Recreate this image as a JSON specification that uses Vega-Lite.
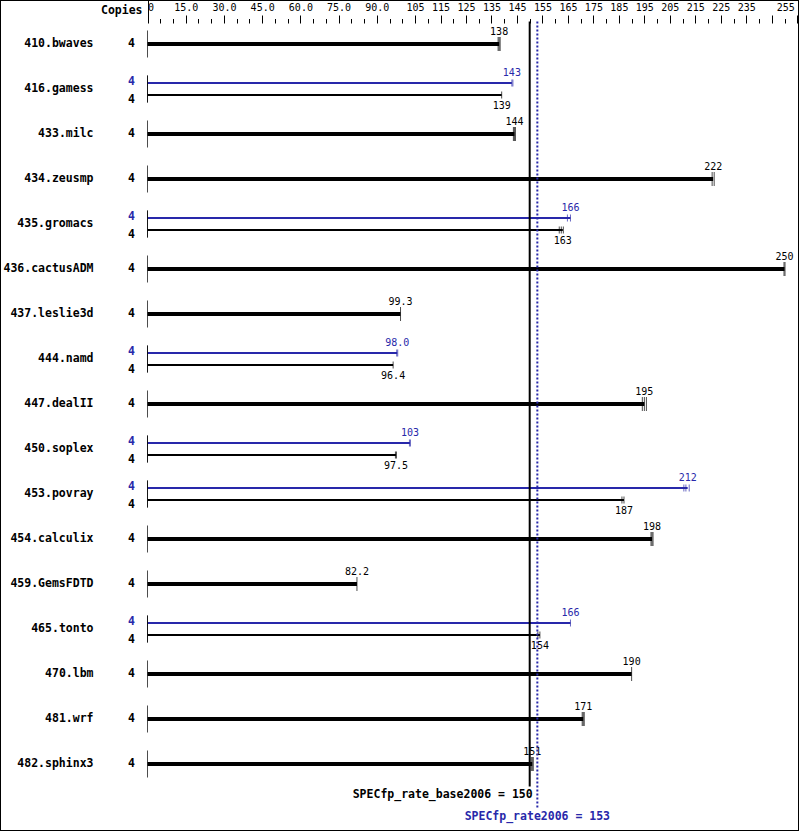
{
  "$schema": "https://vega.github.io/schema/vega-lite/v6.json",
  "width": 799,
  "height": 831,
  "autosize": "none",
  "padding": 0,
  "background": "white",
  "config": {
    "view": {"stroke": "black", "strokeWidth": 2},
    "font": "DejaVu Sans Mono",
    "text": {"font": "DejaVu Sans Mono"}
  },
  "resolve": {"axis": {"x": "independent", "y": "independent"}},
  "datasets": {
    "bars": [
      {"bench": "410.bwaves", "series": "single", "start": 0, "value": 138, "copies": 4},
      {"bench": "416.gamess", "series": "peak", "start": 0, "value": 143, "copies": 4},
      {"bench": "416.gamess", "series": "base", "start": 0, "value": 139, "copies": 4},
      {"bench": "433.milc", "series": "single", "start": 0, "value": 144, "copies": 4},
      {"bench": "434.zeusmp", "series": "single", "start": 0, "value": 222, "copies": 4},
      {"bench": "435.gromacs", "series": "peak", "start": 0, "value": 166, "copies": 4},
      {"bench": "435.gromacs", "series": "base", "start": 0, "value": 163, "copies": 4},
      {"bench": "436.cactusADM", "series": "single", "start": 0, "value": 250, "copies": 4},
      {"bench": "437.leslie3d", "series": "single", "start": 0, "value": 99.3, "copies": 4},
      {"bench": "444.namd", "series": "peak", "start": 0, "value": 98.0, "copies": 4},
      {"bench": "444.namd", "series": "base", "start": 0, "value": 96.4, "copies": 4},
      {"bench": "447.dealII", "series": "single", "start": 0, "value": 195, "copies": 4},
      {"bench": "450.soplex", "series": "peak", "start": 0, "value": 103, "copies": 4},
      {"bench": "450.soplex", "series": "base", "start": 0, "value": 97.5, "copies": 4},
      {"bench": "453.povray", "series": "peak", "start": 0, "value": 212, "copies": 4},
      {"bench": "453.povray", "series": "base", "start": 0, "value": 187, "copies": 4},
      {"bench": "454.calculix", "series": "single", "start": 0, "value": 198, "copies": 4},
      {"bench": "459.GemsFDTD", "series": "single", "start": 0, "value": 82.2, "copies": 4},
      {"bench": "465.tonto", "series": "peak", "start": 0, "value": 166, "copies": 4},
      {"bench": "465.tonto", "series": "base", "start": 0, "value": 154, "copies": 4},
      {"bench": "470.lbm", "series": "single", "start": 0, "value": 190, "copies": 4},
      {"bench": "481.wrf", "series": "single", "start": 0, "value": 171, "copies": 4},
      {"bench": "482.sphinx3", "series": "single", "start": 0, "value": 151, "copies": 4}
    ],
    "runs": [
      {"bench": "410.bwaves", "series": "single", "run": 137.6},
      {"bench": "410.bwaves", "series": "single", "run": 138.0},
      {"bench": "410.bwaves", "series": "single", "run": 138.4},
      {"bench": "416.gamess", "series": "peak", "run": 143.0},
      {"bench": "416.gamess", "series": "peak", "run": 143.4},
      {"bench": "416.gamess", "series": "base", "run": 139.0},
      {"bench": "433.milc", "series": "single", "run": 143.6},
      {"bench": "433.milc", "series": "single", "run": 144.0},
      {"bench": "433.milc", "series": "single", "run": 144.4},
      {"bench": "434.zeusmp", "series": "single", "run": 221.6},
      {"bench": "434.zeusmp", "series": "single", "run": 222.4},
      {"bench": "435.gromacs", "series": "peak", "run": 164.8},
      {"bench": "435.gromacs", "series": "peak", "run": 166.0},
      {"bench": "435.gromacs", "series": "base", "run": 161.6},
      {"bench": "435.gromacs", "series": "base", "run": 162.4},
      {"bench": "435.gromacs", "series": "base", "run": 163.2},
      {"bench": "436.cactusADM", "series": "single", "run": 249.8},
      {"bench": "436.cactusADM", "series": "single", "run": 250.2},
      {"bench": "437.leslie3d", "series": "single", "run": 99.3},
      {"bench": "444.namd", "series": "peak", "run": 97.8},
      {"bench": "444.namd", "series": "peak", "run": 98.2},
      {"bench": "444.namd", "series": "base", "run": 96.4},
      {"bench": "447.dealII", "series": "single", "run": 194.2},
      {"bench": "447.dealII", "series": "single", "run": 195.0},
      {"bench": "447.dealII", "series": "single", "run": 195.8},
      {"bench": "450.soplex", "series": "peak", "run": 102.8},
      {"bench": "450.soplex", "series": "peak", "run": 103.2},
      {"bench": "450.soplex", "series": "base", "run": 97.3},
      {"bench": "450.soplex", "series": "base", "run": 97.7},
      {"bench": "453.povray", "series": "peak", "run": 210.5},
      {"bench": "453.povray", "series": "peak", "run": 211.3},
      {"bench": "453.povray", "series": "peak", "run": 212.6},
      {"bench": "453.povray", "series": "base", "run": 186.2},
      {"bench": "453.povray", "series": "base", "run": 187.0},
      {"bench": "454.calculix", "series": "single", "run": 197.6},
      {"bench": "454.calculix", "series": "single", "run": 198.0},
      {"bench": "454.calculix", "series": "single", "run": 198.4},
      {"bench": "459.GemsFDTD", "series": "single", "run": 82.2},
      {"bench": "465.tonto", "series": "peak", "run": 166.0},
      {"bench": "465.tonto", "series": "base", "run": 153.2},
      {"bench": "465.tonto", "series": "base", "run": 154.0},
      {"bench": "470.lbm", "series": "single", "run": 190.0},
      {"bench": "481.wrf", "series": "single", "run": 170.6},
      {"bench": "481.wrf", "series": "single", "run": 171.0},
      {"bench": "481.wrf", "series": "single", "run": 171.4},
      {"bench": "482.sphinx3", "series": "single", "run": 150.6},
      {"bench": "482.sphinx3", "series": "single", "run": 151.0},
      {"bench": "482.sphinx3", "series": "single", "run": 151.4}
    ],
    "summary": [
      {"label": "SPECfp_rate_base2006 = 150", "series": "base", "value": 150, "first": "410.bwaves", "last": "482.sphinx3"},
      {"label": "SPECfp_rate2006 = 153", "series": "peak", "value": 153, "first": "410.bwaves", "last": "482.sphinx3"}
    ]
  },
  "layer": [
    {
      "data": {"name": "bars"},
      "transform": [{"filter": "datum.series == 'single'"}],
      "mark": {"type": "rule", "strokeWidth": 4},
      "encoding": {
        "y": {
          "field": "bench", "type": "nominal", "sort": null,
          "scale": {
            "domain": ["410.bwaves","416.gamess","433.milc","434.zeusmp","435.gromacs","436.cactusADM","437.leslie3d","444.namd","447.dealII","450.soplex","453.povray","454.calculix","459.GemsFDTD","465.tonto","470.lbm","481.wrf","482.sphinx3"],
            "paddingInner": 0, "paddingOuter": 0.7333, "align": 0.326
          },
          "axis": {
            "orient": "left", "offset": -147, "domain": false, "ticks": false, "tickSize": 0,
            "labelPadding": 54, "labelFont": "DejaVu Sans Mono", "labelFontWeight": "bold",
            "labelFontSize": 11.5, "labelColor": "black", "labelAlign": "right", "labelBaseline": "middle",
            "title": null, "grid": false
          }
        },
        "yOffset": {
          "field": "series", "type": "nominal",
          "scale": {"domain": ["o1","o2","peak","single","base","o3","o4"], "paddingInner": 0, "paddingOuter": 0.25}
        },
        "x": {
          "field": "start", "type": "quantitative",
          "scale": {"domain": [-57.89, 255.69], "nice": false, "zero": false},
          "axis": {
            "orient": "top", "offset": -23, "domain": false, "grid": false,
            "values": [0,5,10,15,20,25,30,35,40,45,50,55,60,65,70,75,80,85,90,95,100,105,110,115,120,125,130,135,140,145,150,155,160,165,170,175,180,185,190,195,200,205,210,215,220,225,230,235,240,245,250,255],
            "labelExpr": "datum.value == 0 ? '0' : indexof([15,30,45,60,75,90,105,115,125,135,145,155,165,175,185,195,205,215,225,235,255], datum.value) < 0 ? '' : datum.value < 100 ? format(datum.value, '.1f') : format(datum.value, 'd')",
            "labelFont": "DejaVu Sans Mono", "labelFontSize": 10, "labelColor": "black",
            "labelBaseline": "alphabetic", "labelOverlap": false, "labelFlush": false,
            "labelPadding": {"condition": {"test": "datum.value == 0", "value": -10}, "value": 5},
            "labelAlign": {"condition": {"test": "datum.value == 0", "value": "left"}, "value": "center"},
            "labelOffset": {"condition": {"test": "datum.value == 255", "value": -12}, "value": 0},
            "tickColor": "black", "tickWidth": 1,
            "tickSize": {"condition": [{"test": "datum.value == 0", "value": 23}, {"test": "indexof([15,30,45,60,75,90,105,115,125,135,145,155,165,175,185,195,205,215,225,235,245,255], datum.value) >= 0", "value": 8}], "value": 4.5},
            "title": "Copies", "titleX": 142, "titleY": -10, "titleAlign": "right",
            "titleBaseline": "alphabetic", "titleFont": "DejaVu Sans Mono", "titleFontWeight": "bold",
            "titleFontSize": 11.5, "titleColor": "black", "titleAngle": 0
          }
        },
        "x2": {"field": "value"},
        "color": {"field": "series", "type": "nominal", "scale": {"domain": ["peak","single","base"], "range": ["#2828aa","#000000","#000000"]}, "legend": null}
      }
    },
    {
      "data": {"name": "bars"},
      "transform": [{"filter": "datum.series != 'single'"}],
      "mark": {"type": "rule", "strokeWidth": 2},
      "encoding": {
        "y": {"field": "bench", "type": "nominal", "sort": null, "axis": null},
        "yOffset": {"field": "series", "type": "nominal"},
        "x": {"field": "start", "type": "quantitative", "axis": null},
        "x2": {"field": "value"},
        "color": {"field": "series", "type": "nominal", "legend": null}
      }
    },
    {
      "data": {"name": "bars"},
      "mark": {"type": "tick", "orient": "vertical", "size": 27, "thickness": 1, "color": "black"},
      "encoding": {
        "x": {"field": "start", "type": "quantitative", "axis": null},
        "y": {"field": "bench", "type": "nominal", "sort": null, "axis": null}
      }
    },
    {
      "data": {"name": "runs"},
      "transform": [{"filter": "datum.series == 'single'"}],
      "mark": {"type": "tick", "orient": "vertical", "thickness": 1, "size": 14},
      "encoding": {
        "x": {"field": "run", "type": "quantitative", "axis": null},
        "y": {"field": "bench", "type": "nominal", "sort": null, "axis": null},
        "yOffset": {"field": "series", "type": "nominal"},
        "color": {"field": "series", "type": "nominal", "legend": null}
      }
    },
    {
      "data": {"name": "runs"},
      "transform": [{"filter": "datum.series != 'single'"}],
      "mark": {"type": "tick", "orient": "vertical", "thickness": 1, "size": 7},
      "encoding": {
        "x": {"field": "run", "type": "quantitative", "axis": null},
        "y": {"field": "bench", "type": "nominal", "sort": null, "axis": null},
        "yOffset": {"field": "series", "type": "nominal"},
        "color": {"field": "series", "type": "nominal", "legend": null}
      }
    },
    {
      "data": {"name": "bars"},
      "transform": [{"filter": "datum.series == 'single'"}],
      "mark": {"type": "text", "fontSize": 10, "align": "center", "baseline": "middle", "dy": -12},
      "encoding": {
        "x": {"field": "value", "type": "quantitative", "axis": null},
        "y": {"field": "bench", "type": "nominal", "sort": null, "axis": null},
        "yOffset": {"field": "series", "type": "nominal"},
        "text": {"field": "value", "type": "quantitative", "format": ".3r"},
        "color": {"field": "series", "type": "nominal", "legend": null}
      }
    },
    {
      "data": {"name": "bars"},
      "transform": [{"filter": "datum.series == 'peak'"}],
      "mark": {"type": "text", "fontSize": 10, "align": "center", "baseline": "middle", "dy": -10},
      "encoding": {
        "x": {"field": "value", "type": "quantitative", "axis": null},
        "y": {"field": "bench", "type": "nominal", "sort": null, "axis": null},
        "yOffset": {"field": "series", "type": "nominal"},
        "text": {"field": "value", "type": "quantitative", "format": ".3r"},
        "color": {"field": "series", "type": "nominal", "legend": null}
      }
    },
    {
      "data": {"name": "bars"},
      "transform": [{"filter": "datum.series == 'base'"}],
      "mark": {"type": "text", "fontSize": 10, "align": "center", "baseline": "middle", "dy": 11},
      "encoding": {
        "x": {"field": "value", "type": "quantitative", "axis": null},
        "y": {"field": "bench", "type": "nominal", "sort": null, "axis": null},
        "yOffset": {"field": "series", "type": "nominal"},
        "text": {"field": "value", "type": "quantitative", "format": ".3r"},
        "color": {"field": "series", "type": "nominal", "legend": null}
      }
    },
    {
      "data": {"name": "bars"},
      "transform": [{"filter": "datum.series == 'single'"}],
      "mark": {"type": "text", "fontSize": 11.5, "fontWeight": "bold", "align": "center", "baseline": "middle"},
      "encoding": {
        "x": {"datum": -6.28, "type": "quantitative", "axis": null},
        "y": {"field": "bench", "type": "nominal", "sort": null, "axis": null},
        "yOffset": {"field": "series", "type": "nominal"},
        "text": {"field": "copies", "type": "nominal"},
        "color": {"field": "series", "type": "nominal", "legend": null}
      }
    },
    {
      "data": {"name": "bars"},
      "transform": [{"filter": "datum.series == 'peak'"}],
      "mark": {"type": "text", "fontSize": 11.5, "fontWeight": "bold", "align": "center", "baseline": "middle", "dy": -1},
      "encoding": {
        "x": {"datum": -6.28, "type": "quantitative", "axis": null},
        "y": {"field": "bench", "type": "nominal", "sort": null, "axis": null},
        "yOffset": {"field": "series", "type": "nominal"},
        "text": {"field": "copies", "type": "nominal"},
        "color": {"field": "series", "type": "nominal", "legend": null}
      }
    },
    {
      "data": {"name": "bars"},
      "transform": [{"filter": "datum.series == 'base'"}],
      "mark": {"type": "text", "fontSize": 11.5, "fontWeight": "bold", "align": "center", "baseline": "middle", "dy": 5},
      "encoding": {
        "x": {"datum": -6.28, "type": "quantitative", "axis": null},
        "y": {"field": "bench", "type": "nominal", "sort": null, "axis": null},
        "yOffset": {"field": "series", "type": "nominal"},
        "text": {"field": "copies", "type": "nominal"},
        "color": {"field": "series", "type": "nominal", "legend": null}
      }
    },
    {
      "data": {"name": "summary"},
      "transform": [{"filter": "datum.series == 'base'"}],
      "mark": {"type": "rule", "strokeWidth": 2, "color": "black"},
      "encoding": {
        "x": {"field": "value", "type": "quantitative", "axis": null},
        "y": {"field": "first", "type": "nominal", "bandPosition": 0, "axis": null},
        "y2": {"field": "last", "bandPosition": 1}
      }
    },
    {
      "data": {"name": "summary"},
      "transform": [{"filter": "datum.series == 'peak'"}],
      "mark": {"type": "rule", "strokeWidth": 2, "color": "#2828aa", "strokeDash": [2, 2], "y2Offset": 22},
      "encoding": {
        "x": {"field": "value", "type": "quantitative", "axis": null},
        "y": {"field": "first", "type": "nominal", "bandPosition": 0, "axis": null},
        "y2": {"field": "last", "bandPosition": 1}
      }
    },
    {
      "data": {"name": "summary"},
      "transform": [{"filter": "datum.series == 'base'"}],
      "mark": {"type": "text", "fontSize": 11.5, "fontWeight": "bold", "align": "right", "baseline": "middle", "dx": 3, "dy": 8.5, "color": "black"},
      "encoding": {
        "x": {"field": "value", "type": "quantitative", "axis": null},
        "y": {"field": "last", "type": "nominal", "bandPosition": 1, "axis": null},
        "text": {"field": "label", "type": "nominal"}
      }
    },
    {
      "data": {"name": "summary"},
      "transform": [{"filter": "datum.series == 'peak'"}],
      "mark": {"type": "text", "fontSize": 11.5, "fontWeight": "bold", "align": "center", "baseline": "middle", "dy": 30.5, "color": "#2828aa"},
      "encoding": {
        "x": {"field": "value", "type": "quantitative", "axis": null},
        "y": {"field": "last", "type": "nominal", "bandPosition": 1, "axis": null},
        "text": {"field": "label", "type": "nominal"}
      }
    }
  ]
}
